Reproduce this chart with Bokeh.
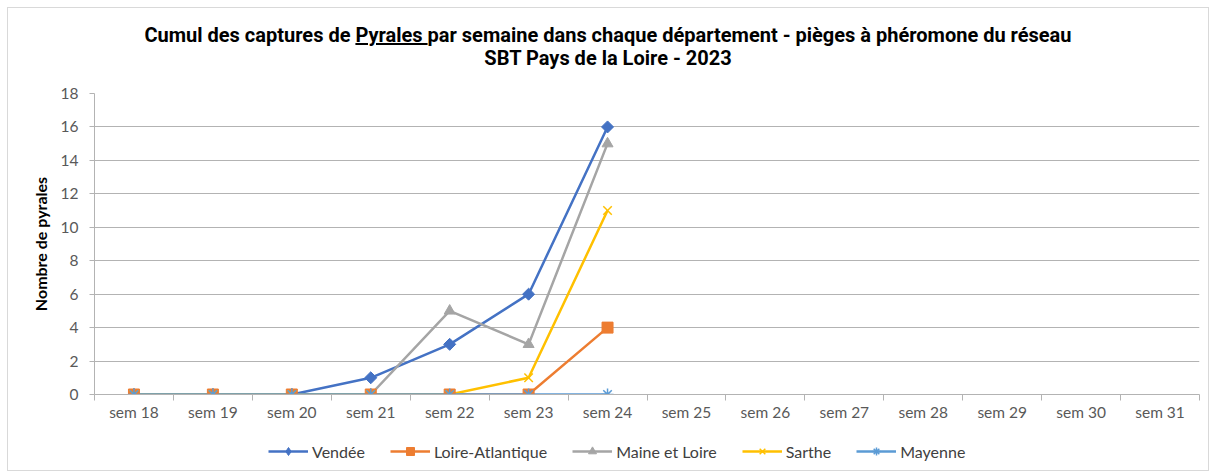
import numpy as np
from bokeh.plotting import figure
from bokeh.models import FixedTicker, Legend, LegendItem, Range1d, Div
from bokeh.layouts import column
from bokeh.embed import file_html
from bokeh.resources import INLINE

weeks = ["sem 18", "sem 19", "sem 20", "sem 21", "sem 22", "sem 23", "sem 24",
         "sem 25", "sem 26", "sem 27", "sem 28", "sem 29", "sem 30", "sem 31"]
vendee = [0, 0, 0, 1, 3, 6, 16]
loire_atlantique = [0, 0, 0, 0, 0, 0, 4]
maine_et_loire = [0, 0, 0, 0, 5, 3, 15]
sarthe = [0, 0, 0, 0, 0, 1, 11]
mayenne = [0, 0, 0, 0, 0, 0, 0]
y_ticks = [0, 2, 4, 6, 8, 10, 12, 14, 16, 18]
title_pre = "Cumul des captures de "
title_under = "Pyrales "
title_post = "par semaine dans chaque département - pièges à phéromone du réseau"
title_line2 = "SBT Pays de la Loire - 2023"

# name, values, colour, marker, size, angle, legend marker, legend size
series = [
    ("Vendée", vendee, "#4472C4", "square", 8.5, np.pi / 4, "diamond", 12),
    ("Loire-Atlantique", loire_atlantique, "#ED7D31", "square", 11, 0, "square", 9),
    ("Maine et Loire", maine_et_loire, "#A5A5A5", "triangle", 11, 0, "triangle", 9),
    ("Sarthe", sarthe, "#FFC000", "x", 12, 0, "x", 10),
    ("Mayenne", mayenne, "#5B9BD5", "asterisk", 12, 0, "asterisk", 10),
]
marker_order = [0, 2, 1, 3, 4]

W = 1200
title_div = Div(
    text=(f'<div style="text-align:center;font-family:Roboto;font-weight:bold;'
          f'font-size:20px;line-height:23px;color:#000;padding-top:16px;width:{W}px;">'
          f'{title_pre}<u>{title_under}</u>{title_post}<br>{title_line2}</div>'),
    width=W, height=75, margin=0)

p = figure(width=W, height=345, output_backend="svg", toolbar_location=None,
           x_range=Range1d(0, len(weeks)), y_range=Range1d(0, 18),
           min_border_left=86, min_border_right=9, min_border_top=10,
           min_border_bottom=34)
p.outline_line_color = None
p.background_fill_color = "white"
p.border_fill_color = "white"

grid_color = "#b3b3b3"
p.xgrid.grid_line_color = None
p.ygrid.grid_line_color = grid_color
p.ygrid.ticker = FixedTicker(ticks=y_ticks)

xa = p.xaxis[0]
centers = [i + 0.5 for i in range(len(weeks))]
xa.ticker = FixedTicker(ticks=centers, minor_ticks=list(range(len(weeks) + 1)))
xa.major_label_overrides = {c: w for c, w in zip(centers, weeks)}
xa.major_tick_line_color = None
xa.minor_tick_in = 0
xa.minor_tick_out = 6
xa.minor_tick_line_color = grid_color
xa.axis_line_color = grid_color
xa.major_label_text_font = "Lato"
xa.major_label_text_font_size = "15.5px"
xa.major_label_text_color = "#595959"
xa.major_label_standoff = 2

ya = p.yaxis[0]
ya.ticker = FixedTicker(ticks=y_ticks)
ya.minor_tick_line_color = None
ya.major_tick_in = 0
ya.major_tick_out = 5
ya.major_tick_line_color = grid_color
ya.axis_line_color = grid_color
ya.major_label_text_font = "Lato"
ya.major_label_text_font_size = "15.5px"
ya.major_label_text_color = "#595959"
ya.major_label_standoff = 11
ya.axis_label = "Nombre de pyrales"
ya.axis_label_text_font = "Lato"
ya.axis_label_text_font_style = "bold"
ya.axis_label_text_font_size = "16px"
ya.axis_label_text_color = "#000000"
ya.axis_label_standoff = 8

# legend strip below the chart: its renderers use the same data, but lie
# outside this strip's ranges, so only the legend glyphs are visible
lg = figure(width=W, height=42, output_backend="svg", toolbar_location=None,
            x_axis_type=None, y_axis_type=None, x_range=Range1d(-200, -100),
            y_range=Range1d(-200, -100), min_border=0, min_border_left=0,
            min_border_right=0, min_border_top=0, min_border_bottom=0)
lg.outline_line_color = None
lg.xgrid.visible = False
lg.ygrid.visible = False
lg.border_fill_color = "white"

for name, vals, color, marker, size, ang, lmark, lsize in series:
    p.line(centers[:len(vals)], vals, line_color=color, line_width=2.5)

for i in marker_order:
    name, vals, color, marker, size, ang, lmark, lsize = series[i]
    lw = 1.5 if marker in ("x", "asterisk") else 1
    p.scatter(centers[:len(vals)], vals, marker=marker, size=size, angle=ang,
              fill_color=color, line_color=color, line_width=lw)

items = []
for name, vals, color, marker, size, ang, lmark, lsize in series:
    xs = centers[:len(vals)]
    lw = 1.5 if marker in ("x", "asterisk") else 1
    l2 = lg.line(xs, vals, line_color=color, line_width=2.5)
    s2 = lg.scatter(xs, vals, marker=lmark, size=lsize,
                    fill_color=color, line_color=color, line_width=lw)
    items.append(LegendItem(label=name, renderers=[l2, s2]))

legend = Legend(items=items, orientation="horizontal", location=(174, 9),
                label_text_font="Lato", label_text_font_size="16px",
                label_text_color="#404040", glyph_width=40, spacing=25,
                label_standoff=4, border_line_color=None, background_fill_alpha=0,
                margin=0, padding=4)
lg.add_layout(legend, "center")

layout = column(title_div, p, lg, spacing=0, margin=(7, 0, 0, 7),
                styles={"border": "1px solid #d9d9d9", "background": "white"})
open("out.html", "w").write(file_html(layout, INLINE))
